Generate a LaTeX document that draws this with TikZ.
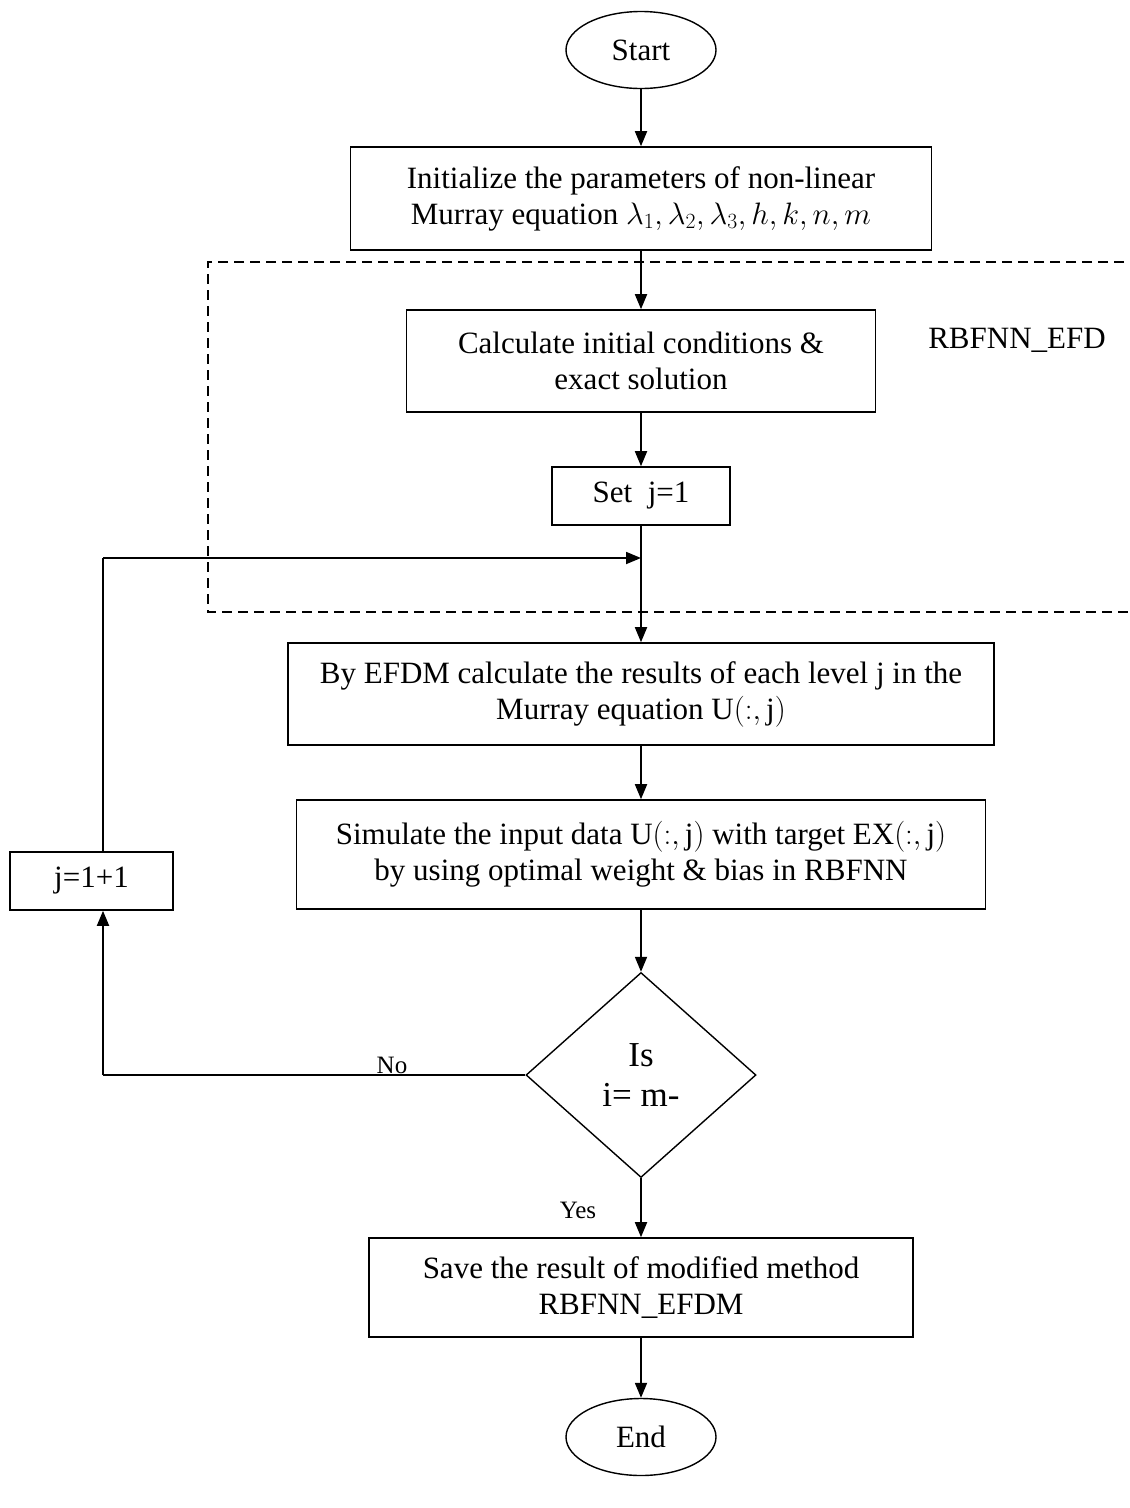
\RequirePackage{fix-cm}
\documentclass[tikz,border=0pt]{standalone}
\usepackage{fontspec}
\setmainfont{Liberation Serif}
\usetikzlibrary{shapes.geometric,arrows.meta}
\begin{document}
\begin{tikzpicture}[x=1pt,y=-1pt,
  every node/.style={font=\fontsize{31}{36}\selectfont, align=center},
  procbox/.style={draw, line width=1.6pt, inner sep=0pt},
  termnode/.style={draw, ellipse, line width=1.4pt, inner sep=0pt, minimum width=150, minimum height=77},
  decision/.style={draw, diamond, line width=1.4pt, inner sep=0pt, minimum width=230, minimum height=205},
  flow/.style={line width=1.8pt, -{Triangle[length=15pt,width=12pt]}},
  plain/.style={line width=1.8pt},
  label/.style={font=\fontsize{25}{29}\selectfont}]
\useasboundingbox (0,0) rectangle (1130,1508);

% terminals
\node[termnode] (start) at (641,50) {Start};
\node[termnode] (end) at (641,1437) {End};

% process steps
\node[procbox, minimum width=581, minimum height=103] (init) at (641,198.5)
  {Initialize the parameters of non-linear\\Murray equation $\lambda_1,\lambda_2,\lambda_3,h,k,n,m$};
\node[procbox, minimum width=469, minimum height=102] (cond) at (641,361)
  {Calculate initial conditions \&\\exact solution};
\node[procbox, minimum width=178, minimum height=58] (setj) at (641,496) {Set~~j=1};
\node[procbox, minimum width=706, minimum height=102] (efdm) at (641,694)
  {By EFDM calculate the results of each level j in the\\Murray equation $\mathrm{U}(:,\mathrm{j})$};
\node[procbox, minimum width=689, minimum height=109] (sim) at (641,854.5)
  {Simulate the input data $\mathrm{U}(:,\mathrm{j})$ with target $\mathrm{EX}(:,\mathrm{j})$\\by using optimal weight \& bias in RBFNN};
\node[decision, font=\fontsize{35}{40}\selectfont] (test) at (641,1075)
  {Is\\i= m-};
\node[procbox, minimum width=544, minimum height=99] (save) at (641,1287.5)
  {Save the result of modified method\\RBFNN\_EFDM};
\node[procbox, minimum width=163, minimum height=58] (incr) at (91.5,881) {j=1+1};

% dashed region around the RBFNN_EFD part
\draw[line width=1.6pt, dash pattern=on 10pt off 6pt]
  (1140,262) -- (208,262) -- (208,612) -- (1140,612);
\node (region) at (1017,340) {RBFNN\_EFD};

% main flow
\coordinate (merge) at (641,558);
\draw[flow] (start) -- (init);
\draw[flow] (init) -- (cond);
\draw[flow] (cond) -- (setj);
\draw[flow] (setj.south) -- (efdm.north);
\draw[flow] (efdm) -- (sim);
\draw[flow] (sim.south) -- (test.north);
\draw[flow] (test.south) -- (save.north);
\draw[flow] (save) -- (end);

% loop back
\coordinate (loopcorner) at (103,558);
\coordinate (nocorner) at (test.west -| loopcorner);
\draw[plain] (test.west) -- (nocorner);
\draw[flow] (nocorner) -- (incr.south -| nocorner);
\draw[plain] (incr.north -| loopcorner) -- (loopcorner);
\draw[flow] (loopcorner) -- (merge);

% branch labels
\node[label] (nolabel) at (392,1065) {No};
\node[label] (yeslabel) at (578,1210) {Yes};
\end{tikzpicture}
\end{document}
